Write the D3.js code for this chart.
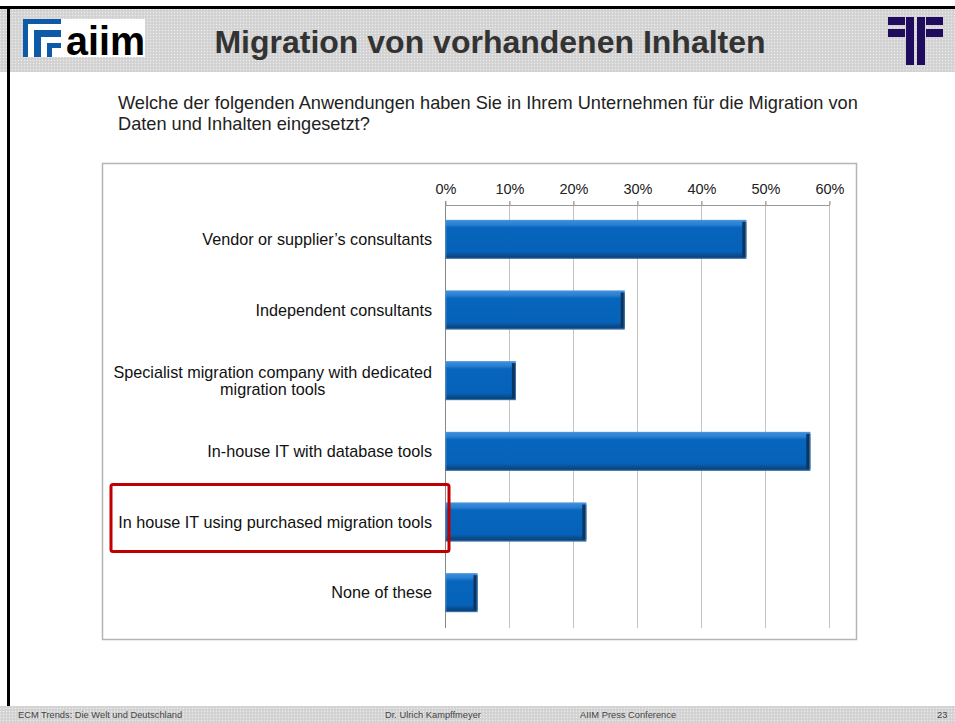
<!DOCTYPE html>
<html><head><meta charset="utf-8">
<script src="https://cdn.jsdelivr.net/npm/d3@7"></script>
<style>body{margin:0;background:#fff}svg{display:block;font-family:"Liberation Sans",Arial,sans-serif}</style>
</head><body>
<script>
const categories = [
  "Vendor or supplier\u2019s consultants",
  "Independent consultants",
  "Specialist migration company with dedicated|migration tools",
  "In-house IT with database tools",
  "In house IT using purchased migration tools",
  "None of these"
];
const values = [0.47, 0.28, 0.11, 0.57, 0.22, 0.05];
const tickValues = [0, 0.1, 0.2, 0.3, 0.4, 0.5, 0.6];
const highlighted = "In house IT using purchased migration tools";

const W = 955, H = 723;
const svg = d3.select("body").append("svg").attr("width", W).attr("height", H);
const defs = svg.append("defs");
const pat = defs.append("pattern").attr("id","dots").attr("width",3).attr("height",3).attr("patternUnits","userSpaceOnUse");
pat.append("rect").attr("width",3).attr("height",3).attr("fill","#d6d6d6");
pat.append("rect").attr("width",1).attr("height",1).attr("fill","#ececec");
pat.append("rect").attr("x",1.5).attr("y",1.5).attr("width",1).attr("height",1).attr("fill","#c8c8c8");

const gv = defs.append("linearGradient").attr("id","barV").attr("x1",0).attr("y1",0).attr("x2",0).attr("y2",1);
gv.append("stop").attr("offset","0").attr("stop-color","#3b8fdc");
gv.append("stop").attr("offset","0.12").attr("stop-color","#2a80d2");
gv.append("stop").attr("offset","0.2").attr("stop-color","#0865bd");
gv.append("stop").attr("offset","0.82").attr("stop-color","#0562b8");
gv.append("stop").attr("offset","0.9").attr("stop-color","#0a4f92");
gv.append("stop").attr("offset","1").attr("stop-color","#0a3c70");

// header & footer bands
svg.append("rect").attr("x",0).attr("y",8).attr("width",W).attr("height",64).attr("fill","url(#dots)");
svg.append("rect").attr("x",0).attr("y",706).attr("width",W).attr("height",17).attr("fill","url(#dots)");
svg.append("rect").attr("x",0).attr("y",6).attr("width",W).attr("height",3).attr("fill","#000");
svg.append("rect").attr("x",7).attr("y",6).attr("width",3).attr("height",700).attr("fill","#000");

// aiim logo
const lg = svg.append("g");
lg.append("rect").attr("x",23).attr("y",19).attr("width",122).attr("height",38).attr("fill","#fff");
lg.append("rect").attr("x",23).attr("y",19).attr("width",38).attr("height",38).attr("fill","#0d5aa7");
[[28,24,33,33],[34,30,27,27],[41,37,20,20],[47,43,14,14]].forEach(([x,y,w,h],i)=>{
  lg.append("rect").attr("x",x).attr("y",y).attr("width",w).attr("height",h).attr("fill", i%2===0?"#fff":"#0d5aa7");
});
lg.append("rect").attr("x",52).attr("y",48).attr("width",9).attr("height",9).attr("fill","#fff");
lg.append("text").attr("x",66).attr("y",55).attr("font-size",40).attr("font-weight","bold").attr("fill","#000")
  .attr("textLength",79).attr("lengthAdjust","spacingAndGlyphs").text("aiim");

// right logo
const rl = svg.append("g").attr("fill","#1f0c5e");
rl.append("rect").attr("x",888).attr("y",17).attr("width",17).attr("height",8);
rl.append("rect").attr("x",888).attr("y",29).attr("width",17).attr("height",8);
rl.append("rect").attr("x",926).attr("y",17).attr("width",17).attr("height",8);
rl.append("rect").attr("x",926).attr("y",29).attr("width",17).attr("height",8);
rl.append("rect").attr("x",906).attr("y",17).attr("width",8).attr("height",48);
rl.append("rect").attr("x",917).attr("y",17).attr("width",8).attr("height",48);

// title
svg.append("text").attr("x",490).attr("y",53).attr("text-anchor","middle").attr("font-size",32)
  .attr("font-weight","bold").attr("fill","#333").text("Migration von vorhandenen Inhalten");

// question
svg.append("text").attr("x",118).attr("y",109).attr("font-size",18.2).attr("fill","#222")
  .text("Welche der folgenden Anwendungen haben Sie in Ihrem Unternehmen für die Migration von");
svg.append("text").attr("x",118).attr("y",130).attr("font-size",18.2).attr("fill","#222")
  .text("Daten und Inhalten eingesetzt?");

// chart box
svg.append("rect").attr("x",102.5).attr("y",163.5).attr("width",754).attr("height",476)
  .attr("fill","#fff").attr("stroke","#b5b5b5").attr("stroke-width",1.5);

const x = d3.scaleLinear().domain([0,0.6]).range([445.5,829.5]);
const y = d3.scaleBand().domain(categories).range([204,628]).paddingInner(0.45).paddingOuter(0.225);

const g = svg.append("g");
// gridlines
g.selectAll(".grid").data(tickValues).join("line")
  .attr("x1",d=>x(d)).attr("x2",d=>x(d)).attr("y1",201).attr("y2",628)
  .attr("stroke",(d,i)=>i===0?"#888":"#c4c4c4").attr("stroke-width",1);
const ax = g.append("g").attr("transform","translate(0,205)")
  .call(d3.axisTop(x).tickValues(tickValues).tickFormat(d3.format(".0%")).tickSize(4).tickSizeOuter(0));
ax.select(".domain").attr("stroke","#999");
ax.selectAll(".tick line").attr("stroke","#999");
ax.selectAll(".tick text").attr("font-size",14.5).attr("fill","#222").attr("font-family","Liberation Sans, Arial, sans-serif").attr("dy","-0.25em");

// bars
const bars = g.selectAll(".bar").data(categories).join("g");
bars.append("rect").attr("x",x(0)).attr("y",d=>y(d)).attr("height",y.bandwidth())
  .attr("width",(d,i)=>x(values[i])-x(0)).attr("fill","url(#barV)");
bars.append("rect").attr("x",(d,i)=>x(values[i])-4).attr("y",d=>y(d)+2).attr("height",y.bandwidth()-4)
  .attr("width",4).attr("fill","#0b3560");
bars.append("rect").attr("x",x(0)+0.5).attr("y",d=>y(d)+0.5).attr("height",y.bandwidth()-1)
  .attr("width",(d,i)=>x(values[i])-x(0)-1).attr("fill","none").attr("stroke","#5a9ad6").attr("stroke-width",1).attr("stroke-opacity",0.6);

// labels
const LFS = 16.2;
categories.forEach(c=>{
  const lines = c.split("|");
  const cy = y(c) + y.bandwidth()/2;
  const t = g.append("text").attr("font-size",LFS).attr("fill","#111");
  if (lines.length === 1) {
    t.attr("x",432).attr("y",cy+5.5).attr("text-anchor","end").text(lines[0]);
  } else {
    const tmp = g.append("text").attr("font-size",LFS).text(lines[0]);
    const w = tmp.node().getComputedTextLength(); tmp.remove();
    const cx = 432 - w/2;
    lines.forEach((l,k)=>{
      t.append("tspan").attr("x",cx).attr("y",cy - 3 + k*17).attr("text-anchor","middle").text(l);
    });
  }
});

// highlight box
const hy = y(highlighted);
svg.append("rect").attr("x",111).attr("y",hy-18).attr("width",338).attr("height",67).attr("rx",2)
  .attr("fill","none").attr("stroke","#c00000").attr("stroke-width",3);

// footer
const ft = [["ECM Trends: Die Welt und Deutschland",18],["Dr. Ulrich Kampffmeyer",385],["AIIM Press Conference",580],["23",937]];
ft.forEach(([s,xx])=>svg.append("text").attr("x",xx).attr("y",718).attr("font-size",9.3).attr("fill","#444").text(s));
</script>
</body></html>
